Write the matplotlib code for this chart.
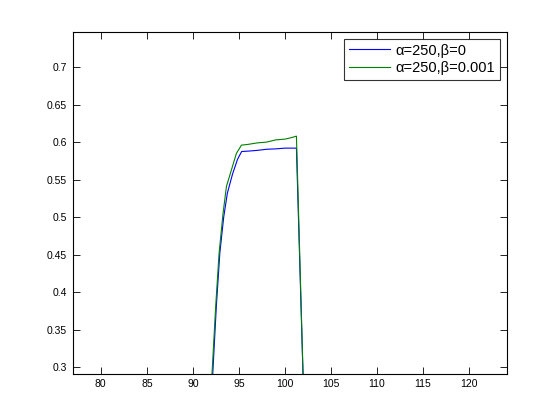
import matplotlib
matplotlib.use('Agg')
import matplotlib.pyplot as plt
from matplotlib.ticker import FormatStrFormatter, FuncFormatter

plt.rcParams['font.family'] = ['Liberation Sans', 'DejaVu Sans']

# beta = 0
x_b = [90.9, 92.16, 92.55, 92.93, 93.35, 93.75, 94.3, 94.85, 95.3,
       96.0, 97.0, 98.0, 99.0, 100.0, 101.25, 102.65]
y_b = [0.0, 0.291, 0.381, 0.452, 0.500, 0.532, 0.557, 0.577, 0.5875,
       0.588, 0.589, 0.5905, 0.591, 0.592, 0.592, 0.0]

# beta = 0.001
x_g = [90.8, 92.08, 92.48, 92.85, 93.28, 93.65, 94.19, 94.73, 95.28,
       96.0, 97.0, 98.0, 99.0, 100.0, 100.7, 101.25, 102.63]
y_g = [0.0, 0.291, 0.381, 0.452, 0.505, 0.541, 0.563, 0.585, 0.596,
       0.597, 0.599, 0.600, 0.603, 0.604, 0.606, 0.608, 0.0]

labels = [u'\u03b1=250,\u03b2=0', u'\u03b1=250,\u03b2=0.001']

fig = plt.figure(figsize=(5.6, 4.2), dpi=100)
ax = fig.add_axes([0.13, 0.11, 0.775, 0.814])
ax.plot(x_b, y_b, color=(0, 0, 1), lw=0.8, label=labels[0])
ax.plot(x_g, y_g, color=(0, 0.5, 0), lw=0.8, label=labels[1])

ax.set_xlim(76.96, 124.1)
ax.set_ylim(0.291, 0.747)
ax.set_xticks(range(80, 121, 5))
ax.set_yticks([0.3, 0.35, 0.4, 0.45, 0.5, 0.55, 0.6, 0.65, 0.7])
ax.yaxis.set_major_formatter(FuncFormatter(lambda v, p: '%g' % round(v, 2)))
ax.tick_params(direction='in', top=True, right=True, length=5,
               width=0.6, labelsize=7.5, pad=4)
for s in ax.spines.values():
    s.set_linewidth(0.8)

leg = ax.legend(loc='upper right', fontsize=10.5, frameon=True,
                fancybox=False, handlelength=2.8, borderaxespad=0.5,
                handletextpad=0.4, borderpad=0.3, labelspacing=0.25)
leg.get_frame().set_edgecolor('black')
leg.get_frame().set_linewidth(0.8)

fig.savefig('out.png', dpi=100)
